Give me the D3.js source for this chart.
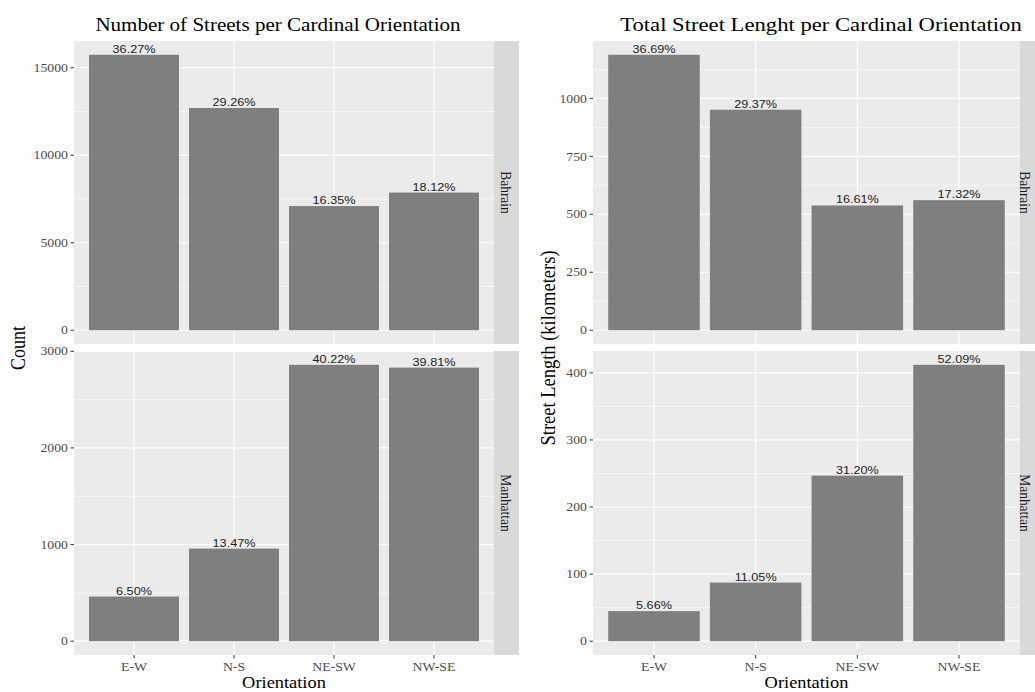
<!DOCTYPE html>
<html><head><meta charset="utf-8">
<script src="https://cdn.jsdelivr.net/npm/d3@7"></script>
<style>body{margin:0;background:#fff}svg{display:block}</style>
</head><body>
<svg id="chart" width="1035" height="692"></svg>
<script>
const categories = ["E-W", "N-S", "NE-SW", "NW-SE"];
const regions = ["Bahrain", "Manhattan"];

const countBahrain = [15740, 12700, 7095, 7865];
const countManhattan = [462, 958, 2860, 2831];
const countPctBahrain = ["36.27%", "29.26%", "16.35%", "18.12%"];
const countPctManhattan = ["6.50%", "13.47%", "40.22%", "39.81%"];

const lengthBahrain = [1188, 951, 538, 561];
const lengthManhattan = [44.8, 87.4, 246.8, 412];
const lengthPctBahrain = ["36.69%", "29.37%", "16.61%", "17.32%"];
const lengthPctManhattan = ["5.66%", "11.05%", "31.20%", "52.09%"];

const countTicksBahrain = [0, 5000, 10000, 15000];
const countTicksManhattan = [0, 1000, 2000, 3000];
const lengthTicksBahrain = [0, 250, 500, 750, 1000];
const lengthTicksManhattan = [0, 100, 200, 300, 400];

const titles = ["Number of Streets per Cardinal Orientation", "Total Street Lenght per Cardinal Orientation"];
const yTitles = ["Count", "Street Length (kilometers)"];
const xTitle = "Orientation";

// ---- styling / layout ----
const SX = 1.15;
const SERIF = "'Liberation Serif','DejaVu Serif',serif";
const SANS = "'Liberation Sans',Arial,sans-serif";
const svg = d3.select("#chart");

const rows = [{top: 41, bottom: 344}, {top: 351, bottom: 655}];
const charts = [
  {left: 74, right: 494, titleX: 278, titleSize: 18.3, yTitleX: 18, yTitleSize: 18, stripTextX: 506.5,
   rows: [{vals: countBahrain, pct: countPctBahrain, ticks: countTicksBahrain},
          {vals: countManhattan, pct: countPctManhattan, ticks: countTicksManhattan}]},
  {left: 593, right: 1020, titleX: 821, titleSize: 19.7, yTitleX: 548, yTitleSize: 18.5, stripTextX: 1025,
   rows: [{vals: lengthBahrain, pct: lengthPctBahrain, ticks: lengthTicksBahrain},
          {vals: lengthManhattan, pct: lengthPctManhattan, ticks: lengthTicksManhattan}]}
];
const stripW = 25;

function txt(g, x, y, str, o) {
  const t = g.append("text")
    .attr("transform", `translate(${x},${y}) scale(${SX},1)` + (o.rotate ? ` rotate(${o.rotate})` : ""))
    .attr("text-anchor", o.anchor || "middle")
    .style("font-family", o.family || SERIF)
    .style("font-size", o.size + "px")
    .attr("fill", o.fill || "#000")
    .text(str);
  if (o.baseline) t.attr("dominant-baseline", o.baseline);
  return t;
}

charts.forEach((c, ci) => {
  const g = svg.append("g");
  const x = d3.scaleLinear().domain([0.4, categories.length + 0.6]).range([c.left, c.right]);
  const barW = x(0.9) - x(0);

  c.rows.forEach((r, ri) => {
    const R = rows[ri];
    const max = d3.max(r.vals);
    const y = d3.scaleLinear().domain([-0.05 * max, 1.05 * max]).range([R.bottom, R.top]);
    g.append("rect").attr("x", c.left).attr("y", R.top).attr("width", c.right - c.left)
      .attr("height", R.bottom - R.top).attr("fill", "#EBEBEB");
    const step = r.ticks[1] - r.ticks[0];
    const minors = [];
    for (let v = r.ticks[0] - step / 2; v <= y.domain()[1]; v += step) {
      if (v >= y.domain()[0]) minors.push(v);
    }
    g.selectAll(null).data(minors).join("line")
      .attr("x1", c.left).attr("x2", c.right)
      .attr("y1", d => y(d)).attr("y2", d => y(d))
      .attr("stroke", "#fff").attr("stroke-width", 0.6);
    g.selectAll(null).data(r.ticks).join("line")
      .attr("x1", c.left).attr("x2", c.right)
      .attr("y1", d => y(d)).attr("y2", d => y(d))
      .attr("stroke", "#fff").attr("stroke-width", 1.2);
    g.selectAll(null).data(categories).join("line")
      .attr("x1", (d, i) => x(i + 1)).attr("x2", (d, i) => x(i + 1))
      .attr("y1", R.top).attr("y2", R.bottom)
      .attr("stroke", "#fff").attr("stroke-width", 1.2);
    g.selectAll(null).data(r.vals).join("rect")
      .attr("x", (d, i) => x(i + 1) - barW / 2).attr("width", barW)
      .attr("y", d => y(d)).attr("height", d => y(0) - y(d))
      .attr("fill", "#7F7F7F");
    r.vals.forEach((v, i) => {
      txt(g, x(i + 1), y(v) - 2, r.pct[i], {size: 11, family: SANS, fill: "#222"});
    });
    r.ticks.forEach(t => {
      g.append("line").attr("x1", c.left - 3.5).attr("x2", c.left)
        .attr("y1", y(t)).attr("y2", y(t)).attr("stroke", "#333").attr("stroke-width", 1);
      txt(g, c.left - 6, y(t), String(t), {size: 12, anchor: "end", fill: "#4D4D4D", baseline: "central"});
    });
    g.append("rect").attr("x", c.right).attr("y", R.top).attr("width", stripW)
      .attr("height", R.bottom - R.top).attr("fill", "#D9D9D9");
    txt(g, c.stripTextX, (R.top + R.bottom) / 2, regions[ri],
      {size: 13.5, rotate: 90, fill: "#1A1A1A", baseline: "central"});
  });

  const yb = rows[1].bottom;
  categories.forEach((cat, i) => {
    g.append("line").attr("x1", x(i + 1)).attr("x2", x(i + 1))
      .attr("y1", yb).attr("y2", yb + 3.5).attr("stroke", "#333");
    txt(g, x(i + 1), yb + 16, cat, {size: 12, fill: "#4D4D4D"});
  });
  txt(g, c.titleX, 31, titles[ci], {size: c.titleSize});
  txt(g, (c.left + c.right) / 2, 688, xTitle, {size: 16});
  txt(g, c.yTitleX, (rows[0].top + rows[1].bottom) / 2, yTitles[ci],
    {size: c.yTitleSize, rotate: -90, baseline: "central"});
});
</script>
</body></html>
